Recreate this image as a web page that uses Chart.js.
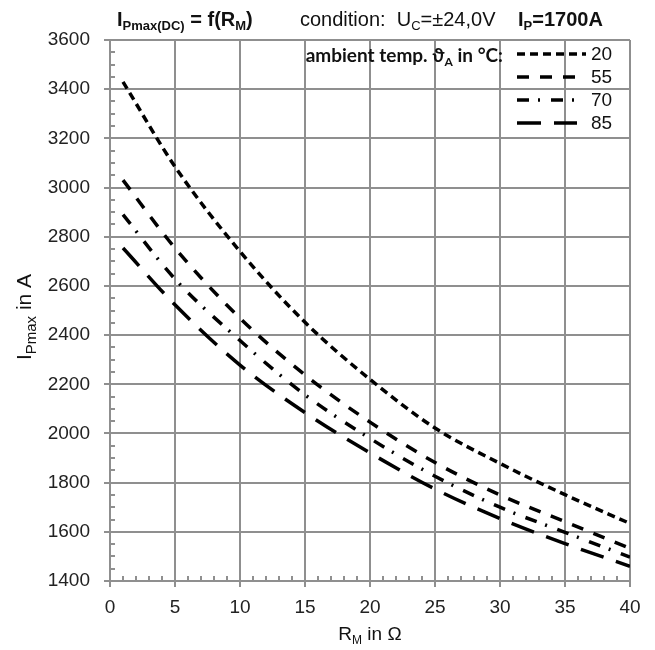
<!DOCTYPE html>
<html>
<head>
<meta charset="utf-8">
<script src="https://cdn.jsdelivr.net/npm/chart.js@4.4.1/dist/chart.umd.min.js"></script>
<style>
  html, body { margin: 0; padding: 0; background: #fff; }
</style>
</head>
<body>
<canvas id="chart" width="655" height="650"></canvas>
<script>
// R_M in ohm
const resistance = [1, 5, 10, 15, 20, 25, 30, 35, 40];
// I_Pmax in A per ambient temperature
const temp20 = [3430, 3085, 2740, 2452, 2220, 2022, 1878, 1751, 1634];
const temp55 = [3030, 2754, 2469, 2238, 2046, 1882, 1750, 1641, 1533];
const temp70 = [2890, 2628, 2378, 2157, 1980, 1826, 1700, 1598, 1497];
const temp85 = [2754, 2523, 2278, 2085, 1921, 1774, 1654, 1552, 1460];
const tempLabels = ['20', '55', '70', '85'];

const FONT = "'Liberation Sans', Arial, sans-serif";
const GRID = '#8f8f8f';
const dashes = [[8, 5], [12, 11], [12, 9, 2, 11], [24, 13]];

const series = [temp20, temp55, temp70, temp85];
const datasets = series.map((vals, i) => ({
  label: tempLabels[i],
  data: resistance.map((r, k) => ({ x: r, y: vals[k] })),
  borderColor: '#000',
  borderWidth: 3.5,
  borderDash: dashes[i],
  pointRadius: 0,
  cubicInterpolationMode: 'monotone',
  fill: false
}));

// draws text runs: [text, bold, subscript]
function rich(ctx, x, y, parts, size, subSize, family) {
  const fam = family || FONT;
  parts.forEach(([t, bold, sub]) => {
    const s = sub ? (subSize || Math.round(size * 0.65)) : size;
    ctx.font = (bold ? 'bold ' : '') + s + 'px ' + fam;
    ctx.fillText(t, x, sub ? y + size * 0.22 : y);
    x += ctx.measureText(t).width;
  });
  return x;
}

const extras = {
  id: 'extras',
  afterDraw(chart) {
    const { ctx, chartArea: a, scales: { x, y } } = chart;
    ctx.save();

    // minor ticks
    ctx.strokeStyle = GRID;
    ctx.lineWidth = 2;
    ctx.beginPath();
    for (let v = 1450; v < 3600; v += 50) {
      if (v % 200 === 0) continue;
      const py = Math.round(y.getPixelForValue(v));
      ctx.moveTo(a.left, py); ctx.lineTo(a.left + 5, py);
    }
    for (let v = 1; v < 40; v++) {
      if (v % 5 === 0) continue;
      const px = Math.round(x.getPixelForValue(v));
      ctx.moveTo(px, a.bottom); ctx.lineTo(px, a.bottom - 5);
    }
    ctx.stroke();

    // header
    ctx.fillStyle = '#111';
    ctx.textBaseline = 'alphabetic';
    ctx.textAlign = 'left';
    rich(ctx, 117, 26, [['I', true], ['Pmax(DC)', true, true], [' = f(R', true], ['M', true, true], [')', true]], 20);
    rich(ctx, 300, 26, [['condition:  U'], ['C', false, true], ['=±24,0V']], 20);
    rich(ctx, 518, 26, [['I', true], ['P', true, true], ['=1700A', true]], 20);

    // legend heading
    const LF = '"Lato", "Open Sans", sans-serif';
    const head = [['ambient temp. ϑ', true], ['A', true, true], [' in °C:', true]];
    const hw = rich(ctx, 0, -100, head, 19, 12, LF);
    rich(ctx, 503 - hw, 62, head, 19, 12, LF);

    const rows = [54, 77, 100, 123];
    const ends = [586, 577, 580, 577];
    ctx.strokeStyle = '#000';
    ctx.lineWidth = 3.5;
    ctx.textBaseline = 'middle';
    rows.forEach((ry, i) => {
      ctx.setLineDash(dashes[i]);
      ctx.beginPath();
      ctx.moveTo(517, ry); ctx.lineTo(ends[i], ry);
      ctx.stroke();
      ctx.font = '19px ' + FONT;
      ctx.fillStyle = '#111';
      ctx.fillText(tempLabels[i], 591, ry + 1);
    });
    ctx.setLineDash([]);

    // axis titles
    ctx.textBaseline = 'alphabetic';
    const xt = [['R'], ['M', false, true], [' in Ω']];
    const xw = rich(ctx, 0, -100, xt, 19);
    rich(ctx, 370 - xw / 2, 640, xt, 19);

    ctx.translate(31, 317);
    ctx.rotate(-Math.PI / 2);
    const yt = [['I'], ['Pmax', false, true], [' in A']];
    const yw = rich(ctx, 0, -1000, yt, 21, 15);
    rich(ctx, -yw / 2, 0, yt, 21, 15);
    ctx.restore();
  }
};

new Chart(document.getElementById('chart'), {
  type: 'line',
  data: { datasets },
  options: {
    responsive: false,
    animation: false,
    layout: { padding: { top: 40, right: 25, left: 0, bottom: 0 } },
    plugins: { legend: { display: false }, tooltip: { enabled: false } },
    scales: {
      x: {
        type: 'linear', min: 0, max: 40,
        afterFit: s => { s.height = 69; },
        ticks: { stepSize: 5, color: '#222', font: { size: 19, family: FONT }, padding: 9 },
        grid: { color: GRID, lineWidth: 2, tickLength: 6 },
        border: { color: GRID, width: 2 }
      },
      y: {
        type: 'linear', min: 1400, max: 3600,
        afterFit: s => { s.width = 110; },
        ticks: { stepSize: 200, color: '#222', font: { size: 19, family: FONT }, padding: 14,
                 callback: v => String(v) },
        grid: { color: GRID, lineWidth: 2, tickLength: 6 },
        border: { color: GRID, width: 2 }
      }
    }
  },
  plugins: [extras]
});
</script>
</body>
</html>
